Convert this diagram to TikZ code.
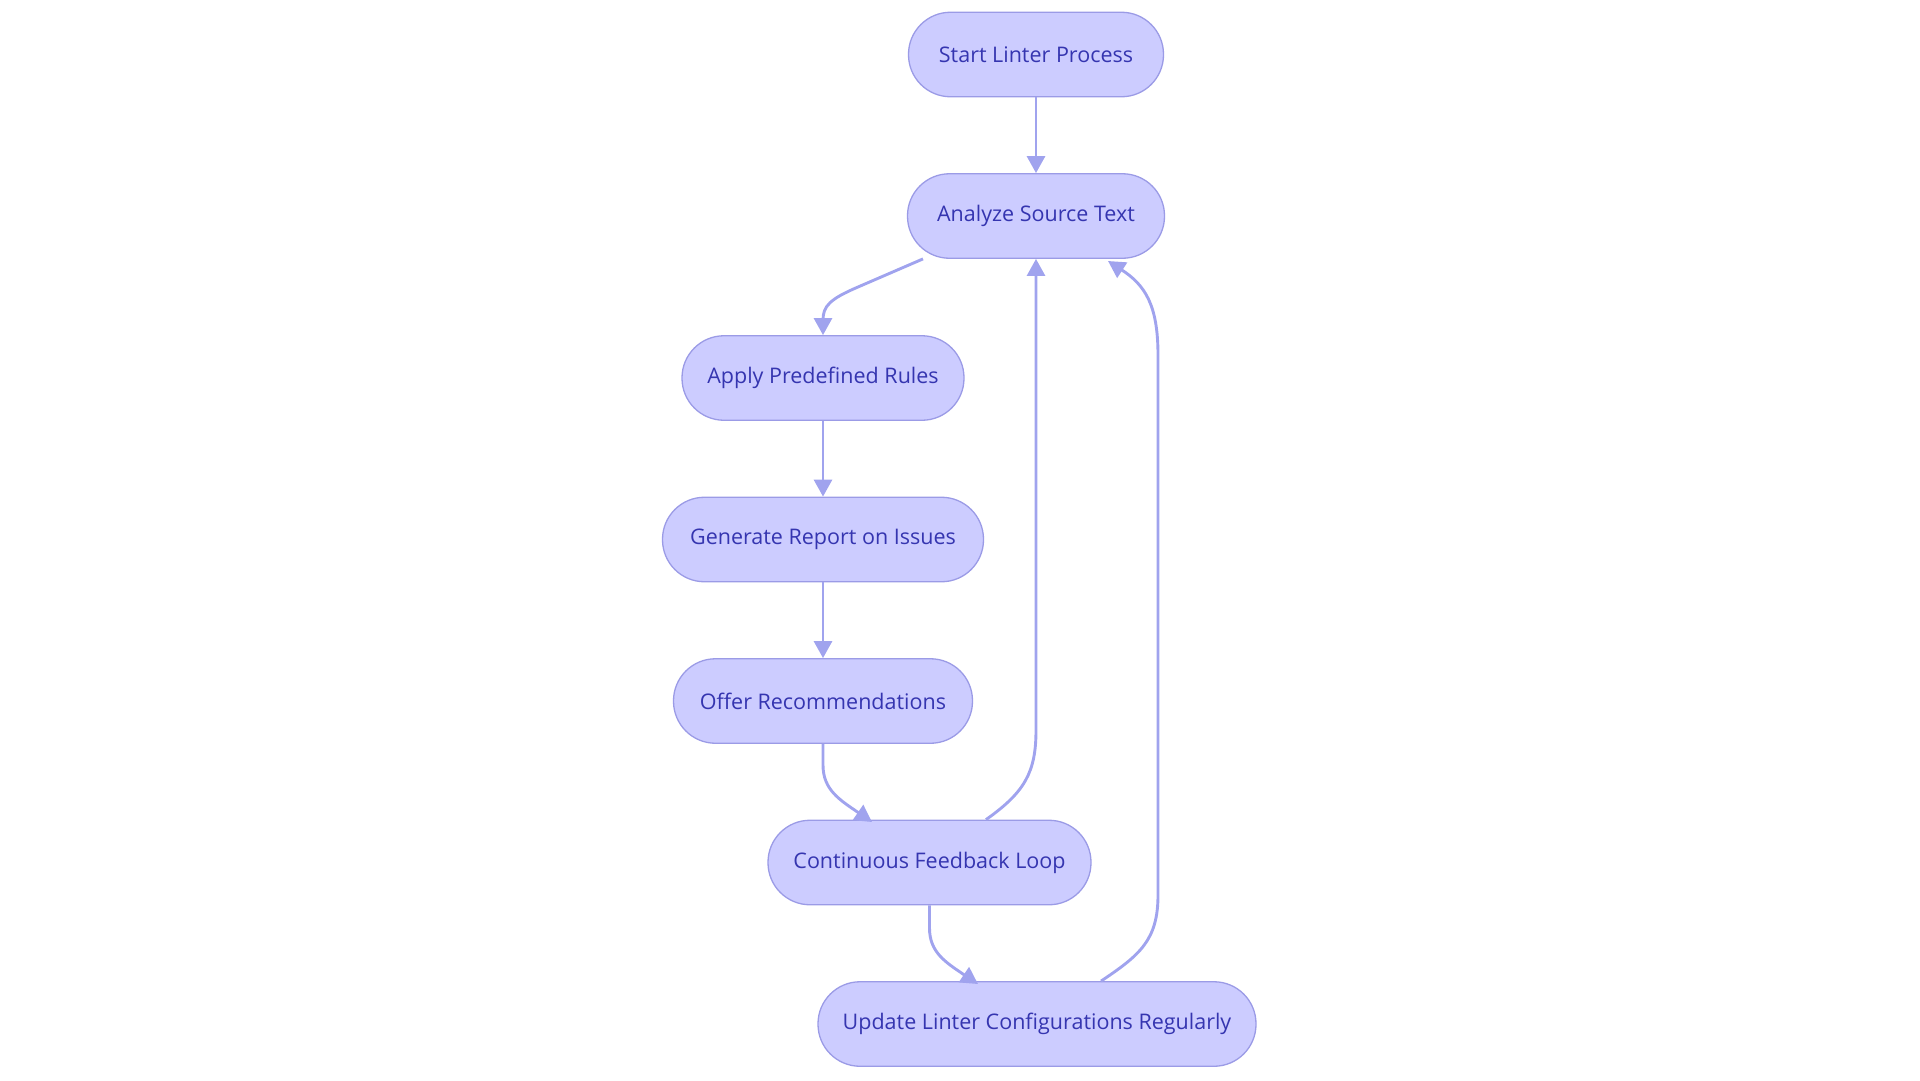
\documentclass[tikz,border=0pt]{standalone}
\usepackage{fontspec}
\setmainfont{Open Sans}
\usetikzlibrary{arrows.meta}
\definecolor{nfill}{HTML}{CCCCFF}
\definecolor{nborder}{HTML}{9B9BE6}
\definecolor{edgec}{HTML}{A0A3EE}
\definecolor{ntext}{HTML}{3535B0}
\tikzset{
  flowbox/.style={draw=nborder, fill=nfill, line width=1.3pt, rounded corners=42pt,
    minimum height=84.5pt, inner sep=0pt, text=ntext,
    font=\fontsize{21.5}{25}\selectfont},
  flowedge/.style={draw=edgec, line width=2.9pt,
    -{Triangle[length=17pt,width=18pt]}}
}
\begin{document}
\begin{tikzpicture}[x=1pt,y=-1pt]
\useasboundingbox (0,0) rectangle (1920,1080);
\node[flowbox, minimum width=255pt] (st) at (1036,54.5) {Start Linter Process};
\node[flowbox, minimum width=257pt] (an) at (1036,216) {Analyze Source Text};
\node[flowbox, minimum width=282pt] (ap) at (823,378) {Apply Predefined Rules};
\node[flowbox, minimum width=321pt] (ge) at (823,539.5) {Generate Report on Issues};
\node[flowbox, minimum width=299pt] (of) at (823,701) {Offer Recommendations};
\node[flowbox, minimum width=323pt] (co) at (929.5,862.5) {Continuous Feedback Loop};
\node[flowbox, minimum width=438pt] (up) at (1037,1024) {Update Linter Configurations Regularly};
% edges
\draw[flowedge] (st.south) -- (an.north);
\draw[flowedge] ([xshift=-113pt]an.south) -- (858,287) .. controls (830,299) and (823,306) .. (823,320) -- (ap.north);
\draw[flowedge] (ap.south) -- (ge.north);
\draw[flowedge] (ge.south) -- (of.north);
\draw[flowedge] (of.south) -- (823,765) .. controls (823,790) and (840,800) .. (872,822);
\draw[flowedge] (co.south) -- (929.5,928) .. controls (929.5,952) and (945,962) .. (978,984);
\draw[flowedge] ([xshift=56.5pt]co.north) .. controls (1025,792) and (1036,772) .. (1036,730) -- (an.south);
\draw[flowedge] ([xshift=64pt]up.north) .. controls (1140,955) and (1158,940) .. (1158,895) -- (1158,355) .. controls (1158,305) and (1145,285) .. (1108,261);
\end{tikzpicture}
\end{document}
